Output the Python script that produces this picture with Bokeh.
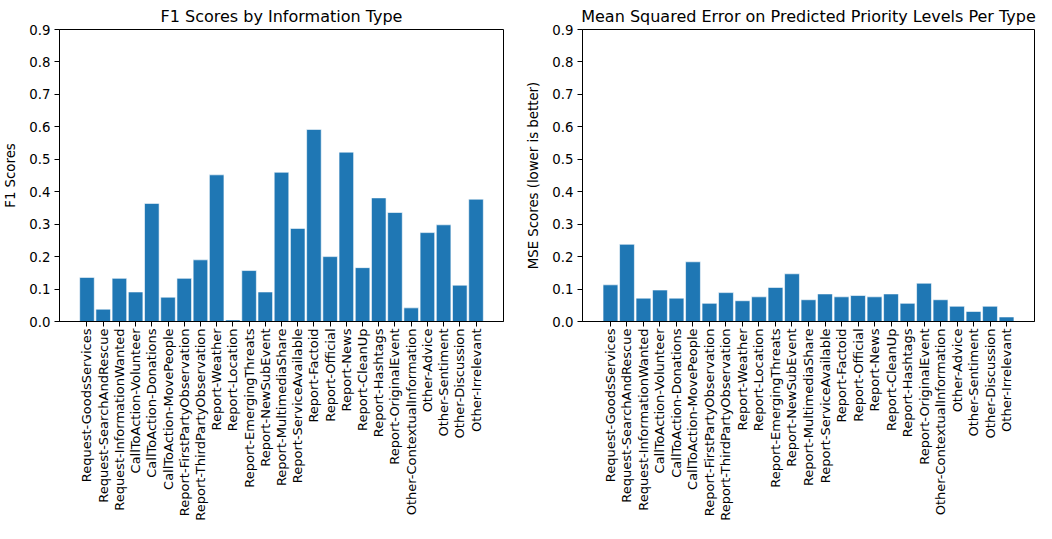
import math
from bokeh.plotting import figure
from bokeh.layouts import row
from bokeh.models import Range1d, FactorRange, SingleIntervalTicker, PrintfTickFormatter, ColumnDataSource
from bokeh.embed import file_html
from bokeh.resources import INLINE

categories = [
    "Request-GoodsServices", "Request-SearchAndRescue", "Request-InformationWanted",
    "CallToAction-Volunteer", "CallToAction-Donations", "CallToAction-MovePeople",
    "Report-FirstPartyObservation", "Report-ThirdPartyObservation", "Report-Weather",
    "Report-Location", "Report-EmergingThreats", "Report-NewSubEvent",
    "Report-MultimediaShare", "Report-ServiceAvailable", "Report-Factoid",
    "Report-Official", "Report-News", "Report-CleanUp", "Report-Hashtags",
    "Report-OriginalEvent", "Other-ContextualInformation", "Other-Advice",
    "Other-Sentiment", "Other-Discussion", "Other-Irrelevant",
]

f1_scores = [0.136, 0.038, 0.133, 0.091, 0.364, 0.075, 0.133, 0.190, 0.452, 0.005,
             0.157, 0.091, 0.460, 0.287, 0.592, 0.200, 0.522, 0.166, 0.381, 0.336,
             0.042, 0.274, 0.298, 0.112, 0.377]

mse_scores = [0.113, 0.238, 0.072, 0.097, 0.072, 0.184, 0.056, 0.089, 0.064, 0.076,
              0.105, 0.147, 0.067, 0.085, 0.076, 0.080, 0.076, 0.085, 0.056, 0.118,
              0.067, 0.047, 0.031, 0.047, 0.014]

FONT = "DejaVu Sans"


def make(title, ylabel, values, width, min_left, min_right):
    src = ColumnDataSource(dict(cat=categories, val=values))
    p = figure(
        x_range=FactorRange(factors=categories, range_padding=0.0956),
        y_range=Range1d(0, 0.9),
        width=width, height=523,
        output_backend="svg", toolbar_location=None,
        title=title,
        min_border_left=min_left, min_border_right=min_right,
        min_border_top=0, min_border_bottom=0,
    )
    p.vbar(x="cat", top="val", width=0.9, source=src,
           fill_color="#1f77b4", line_color="white", line_width=0.6)
    p.title.text_font = FONT
    p.title.text_font_size = "16px"
    p.title.text_font_style = "normal"
    p.title.text_color = "black"
    p.title.align = "center"
    p.title.standoff = 8
    p.xgrid.grid_line_color = None
    p.ygrid.grid_line_color = None
    p.outline_line_color = "black"
    p.outline_line_alpha = 1.0
    p.outline_line_width = 1

    p.yaxis.ticker = SingleIntervalTicker(interval=0.1)
    p.yaxis.formatter = PrintfTickFormatter(format="%.1f")
    p.yaxis.axis_label = ylabel
    p.yaxis.axis_label_text_font = FONT
    p.yaxis.axis_label_text_font_size = "13.3px"
    p.yaxis.axis_label_text_font_style = "normal"
    p.yaxis.axis_label_text_color = "black"
    p.yaxis.axis_label_standoff = 8

    for ax in (p.xaxis, p.yaxis):
        ax.axis_line_color = "black"
        ax.major_tick_line_color = "black"
        ax.major_tick_out = 5
        ax.major_tick_in = 0
        ax.minor_tick_line_color = None
        ax.major_label_text_font = FONT
        ax.major_label_text_color = "black"
        ax.major_label_standoff = 4
    p.xaxis.major_label_standoff = 2
    p.yaxis.major_label_text_font_size = "13.3px"
    p.xaxis.major_label_text_font_size = "13px"
    p.xaxis.major_label_orientation = math.pi / 2
    return p


p1 = make("F1 Scores by Information Type", "F1 Scores", f1_scores, 522, 54, 19)
p2 = make("Mean Squared Error on Predicted Priority Levels Per Type",
          "MSE Scores (lower is better)", mse_scores, 514, 60, 2)

layout = row(p1, p2)
open("out.html", "w").write(file_html(layout, INLINE))
